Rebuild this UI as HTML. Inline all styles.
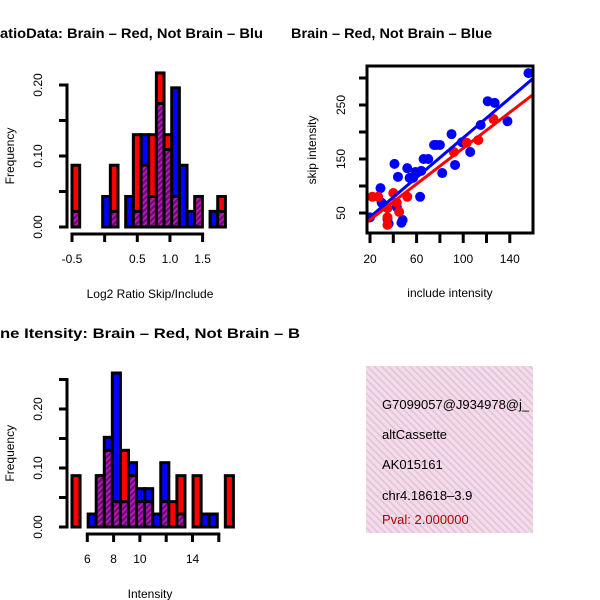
<!DOCTYPE html>
<html><head><meta charset="utf-8"><style>
html,body{margin:0;padding:0;background:#fff;}
svg{display:block;font-family:"Liberation Sans",Arial,sans-serif;}
</style></head><body>
<svg id="root" width="600" height="600" viewBox="0 0 600 600">
<defs>
<pattern id="hatch" patternUnits="userSpaceOnUse" width="4" height="4" patternTransform="rotate(45)">
<rect width="4" height="4" fill="#800080"/><rect width="1.5" height="4" fill="#a030b0"/>
</pattern>
<pattern id="pinkhatch" patternUnits="userSpaceOnUse" width="5" height="5" patternTransform="rotate(-45)">
<rect width="5" height="5" fill="#f6d8f0"/><rect width="1.5" height="5" fill="#dcc8c8"/>
</pattern>
</defs>
<text x="0" y="38" font-size="14" font-weight="bold" textLength="263" lengthAdjust="spacingAndGlyphs">atioData: Brain – Red, Not Brain – Blu</text>
<text x="291" y="38" font-size="14" font-weight="bold" textLength="201" lengthAdjust="spacingAndGlyphs">Brain – Red, Not Brain – Blue</text>
<text x="0" y="338" font-size="14" font-weight="bold" textLength="300" lengthAdjust="spacingAndGlyphs">ne Itensity: Brain – Red, Not Brain – B</text>
<g id="h1"></g>
<g id="h2"></g>
<g id="sc"></g>
<g>
<rect x="366" y="366" width="167" height="167" fill="url(#pinkhatch)"/>
<svg x="366" y="366" width="167" height="167" overflow="hidden">
<text x="16" y="43" font-size="13">G7099057@J934978@j_</text>
<text x="16" y="73" font-size="13">altCassette</text>
<text x="16" y="103" font-size="13">AK015161</text>
<text x="16" y="134" font-size="13">chr4.18618–3.9</text>
<text x="16" y="158" font-size="13" fill="#b00000">Pval: 2.000000</text>
</svg>
</g>
</svg>
<script>
// Ratio histogram data (bin index, frequencies)
const ratioRed  = [0.087,0,0,0,0,0.087,0,0,0.130,0.087,0.130,0.217,0.130,0.043,0,0,0.043,0,0,0.043];
const ratioBlue = [0.022,0,0,0,0.043,0.022,0,0.043,0.022,0.130,0.043,0.174,0.109,0.196,0.087,0.022,0.043,0,0.022,0.022];
const ratioXTicks = [-0.5,0,0.5,1.0,1.5];
const ratioXLabels = ["-0.5","","0.5","1.0","1.5"];
const ratioYTicks = [0,0.05,0.10,0.15,0.20];
const ratioYLabels = ["0.00","","0.10","","0.20"];
// Intensity histogram data
const intRed  = [0.087,0,0,0.087,0.130,0.043,0.130,0.087,0.043,0.043,0,0.043,0.043,0.087,0,0.087,0,0,0,0.087];
const intBlue = [0,0,0.022,0.087,0.152,0.261,0.043,0.109,0.065,0.065,0.022,0.109,0,0.022,0,0,0.022,0.022,0,0];
const intXTicks = [6,8,10,12,14,16];
const intXLabels = ["6","8","10","","14",""];
const intYTicks = [0,0.05,0.10,0.15,0.20,0.25];
const intYLabels = ["0.00","","0.10","","0.20",""];
// Scatter data
const blueX = [156,121,127,138,115,90,77,75,80,99,106,66,70,93,41,52,59,64,82,44,54,57,29,63,30,43,35,47,20,36,48];
const blueY = [309,257,254,220,213,196,176,176,176,181,163,150,150,139,141,133,126,128,124,117,115,115,96,80,69,61,39,32,42,30,37];
const redX = [22,27,40,52,43,35,45,35,92,103,113,126,35];
const redY = [80,80,87,80,69,59,52,28,163,180,185,224,42];
const scXTicks = [20,40,60,80,100,120,140];
const scXLabels = ["20","","60","","100","","140"];
const scYTicks = [50,100,150,200,250,300];
const scYLabels = ["50","","150","","250",""];

const NS="http://www.w3.org/2000/svg";
function mk(parent,tag,attrs){const e=document.createElementNS(NS,tag);for(const k in attrs)e.setAttribute(k,attrs[k]);parent.appendChild(e);return e;}

function hist(g,red,blue,o){
  const xs=i=>o.x0+i*o.bw, ys=v=>o.y0-v*o.ky;
  for(let i=0;i<red.length;i++){
    const r=red[i],b=blue[i];const top=Math.max(r,b),lo=Math.min(r,b);
    if(top<=0)continue;
    const big=mk(g,'rect',{x:xs(i),y:ys(top),width:o.bw,height:top*o.ky,fill:r>=b?'#ff0000':'#0000ff',stroke:'#000','stroke-width':3});
    
    
    if(lo>0){const p=mk(g,'rect',{x:xs(i)+1.5,y:ys(lo),width:o.bw-3,height:lo*o.ky-1.5,fill:'url(#hatch)'});
      
      
      mk(g,'line',{x1:xs(i),x2:xs(i)+o.bw,y1:ys(lo),y2:ys(lo),stroke:'#000','stroke-width':3});}
  }
  const ya=mk(g,'g',{});
  const yt=o.yTicks;
  mk(ya,'line',{x1:o.ax,x2:o.ax,y1:ys(yt[0])+1.5,y2:ys(yt[yt.length-1])-1.5,stroke:'#000','stroke-width':3});
  yt.forEach((t,i)=>{mk(ya,'line',{x1:o.ax-8,x2:o.ax,y1:ys(t),y2:ys(t),stroke:'#000','stroke-width':3});
    if(o.yLabels[i]){const tx=mk(ya,'text',{x:42,y:ys(t),'font-size':12,'text-anchor':'middle',transform:`rotate(-90 42 ${ys(t)})`});tx.textContent=o.yLabels[i];}});
  const xa=mk(g,'g',{});
  const xv=v=>o.xa0+(v-o.xTicks[0])*o.kx;
  const xt=o.xTicks;
  mk(xa,'line',{x1:xv(xt[0])-1.5,x2:xv(xt[xt.length-1])+1.5,y1:o.ay,y2:o.ay,stroke:'#000','stroke-width':3});
  xt.forEach((t,i)=>{mk(xa,'line',{x1:xv(t),x2:xv(t),y1:o.ay,y2:o.ay+8,stroke:'#000','stroke-width':3});
    if(o.xLabels[i]){const tx=mk(xa,'text',{x:xv(t),y:o.ay+29,'font-size':12,'text-anchor':'middle'});tx.textContent=o.xLabels[i];}});
  const xl=mk(g,'text',{x:150,y:o.ay+64,'font-size':12,'text-anchor':'middle'});xl.textContent=o.xTitle;
  
  const cy=(o.y0+ys(yt[yt.length-1]))/2;
  const yl=mk(g,'text',{x:14,y:cy,'font-size':12,'text-anchor':'middle',transform:`rotate(-90 14 ${cy})`});yl.textContent='Frequency';
  
}
hist(document.getElementById('h1'),ratioRed,ratioBlue,{x0:72,bw:7.67,y0:227,ky:710,ax:67,yTicks:ratioYTicks,yLabels:ratioYLabels,
  xTicks:ratioXTicks,xLabels:ratioXLabels,xa0:72,kx:65.3,ay:234,xTitle:'Log2 Ratio Skip/Include'});
hist(document.getElementById('h2'),intRed,intBlue,{x0:72,bw:8.07,y0:527,ky:590,ax:67,yTicks:intYTicks,yLabels:intYLabels,
  xTicks:intXTicks,xLabels:intXLabels,xa0:87.3,kx:13.15,ay:534,xTitle:'Intensity'});

(function(){
  const g=document.getElementById('sc');
  const X=v=>370+(v-20)*23.3/20, Y=v=>213-(v-50)*27/50;
  const clip=mk(g,'clipPath',{id:'scclip'});mk(clip,'rect',{x:367,y:66,width:166,height:167});
  const pg=mk(g,'g',{'clip-path':'url(#scclip)'});
  function fit(xs,ys){const n=xs.length;let mx=0,my=0;for(let i=0;i<n;i++){mx+=xs[i];my+=ys[i];}mx/=n;my/=n;
    let sxy=0,sxx=0;for(let i=0;i<n;i++){sxy+=(xs[i]-mx)*(ys[i]-my);sxx+=(xs[i]-mx)**2;}const b=sxy/sxx;return [my-b*mx,b];}
  [['blue',blueX,blueY,'#0000ff'],['red',redX,redY,'#ff0000']].forEach(([nm,xs,ys,c])=>{
    xs.forEach((x,i)=>{const p=mk(pg,'circle',{cx:X(x),cy:Y(ys[i]),r:5,fill:c});
      
      });
  });
  [['blue',blueX,blueY,'#0000ff'],['red',redX,redY,'#ff0000']].forEach(([nm,xs,ys,c])=>{
    const [a,b]=fit(xs,ys);const l=mk(pg,'line',{x1:X(10),y1:Y(a+b*10),x2:X(170),y2:Y(a+b*170),stroke:c,'stroke-width':3});
    
    
  });
  mk(g,'rect',{x:367,y:66,width:166,height:167,fill:'none',stroke:'#000','stroke-width':3});
  const xa=mk(g,'g',{});
  scXTicks.forEach((t,i)=>{mk(xa,'line',{x1:X(t),x2:X(t),y1:233,y2:243,stroke:'#000','stroke-width':3});
    if(scXLabels[i]){const tx=mk(xa,'text',{x:X(t),y:263,'font-size':12,'text-anchor':'middle'});tx.textContent=scXLabels[i];}});
  const ya=mk(g,'g',{});
  scYTicks.forEach((t,i)=>{mk(ya,'line',{x1:359,x2:367,y1:Y(t),y2:Y(t),stroke:'#000','stroke-width':3});
    if(scYLabels[i]){const tx=mk(ya,'text',{x:345,y:Y(t),'font-size':12,'text-anchor':'middle',transform:`rotate(-90 345 ${Y(t)})`});tx.textContent=scYLabels[i];}});
  const xl=mk(g,'text',{x:450,y:297,'font-size':12,'text-anchor':'middle'});xl.textContent='include intensity';
  
  const yl=mk(g,'text',{x:316,y:150,'font-size':12,'text-anchor':'middle',transform:'rotate(-90 316 150)'});yl.textContent='skip intensity';
  
})();
</script>
</body></html>
